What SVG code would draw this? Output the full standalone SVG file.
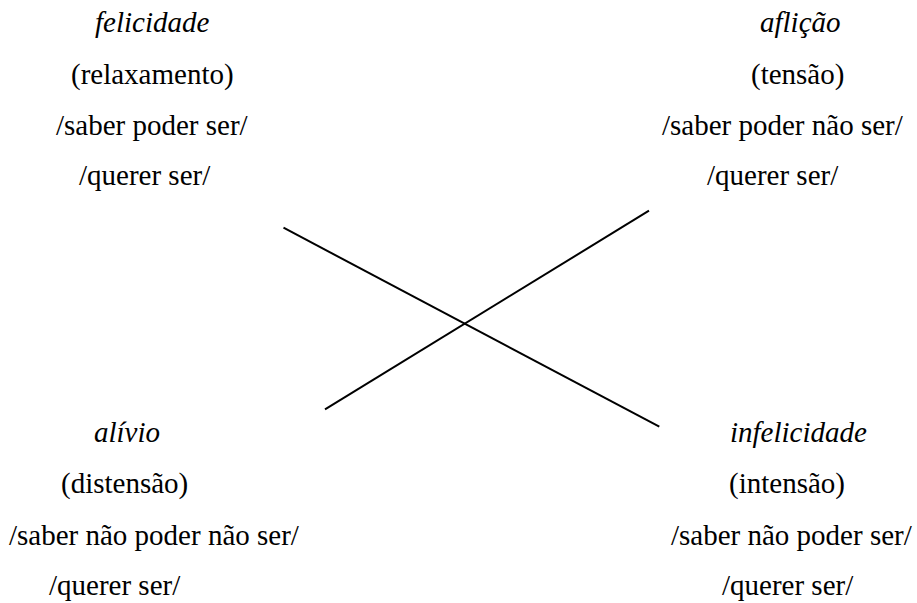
<svg xmlns="http://www.w3.org/2000/svg" width="917" height="603" viewBox="0 0 917 603" font-family="Liberation Serif, Times New Roman, serif" font-size="29">
  <style>
    .term { font-style: italic; }
    .edge { stroke: #000; stroke-width: 2; fill: none; }
  </style>
  <rect width="917" height="603" fill="#fff"/>

  <g id="felicidade" font-family="Liberation Serif">
    <text class="term" x="95" y="32">felicidade</text>
    <text x="71" y="84">(relaxamento)</text>
    <text x="56" y="135">/saber poder ser/</text>
    <text x="79" y="185">/querer ser/</text>
  </g>

  <g id="aflicao" font-family="Liberation Serif">
    <text class="term" x="760" y="32">aflição</text>
    <text x="751" y="84">(tensão)</text>
    <text x="662" y="135">/saber poder não ser/</text>
    <text x="707" y="185">/querer ser/</text>
  </g>

  <g id="alivio" font-family="Liberation Serif">
    <text class="term" x="94" y="442">alívio</text>
    <text x="61" y="493">(distensão)</text>
    <text x="9" y="545">/saber não poder não ser/</text>
    <text x="49" y="595">/querer ser/</text>
  </g>

  <g id="infelicidade" font-family="Liberation Serif">
    <text class="term" x="730" y="442">infelicidade</text>
    <text x="729" y="493">(intensão)</text>
    <text x="671" y="545">/saber não poder ser/</text>
    <text x="722" y="595">/querer ser/</text>
  </g>

  <g id="connectors">
    <line class="edge" x1="283.5" y1="227.7" x2="659.3" y2="426.7"/>
    <line class="edge" x1="325" y1="409.3" x2="649" y2="210.7"/>
  </g>
</svg>
